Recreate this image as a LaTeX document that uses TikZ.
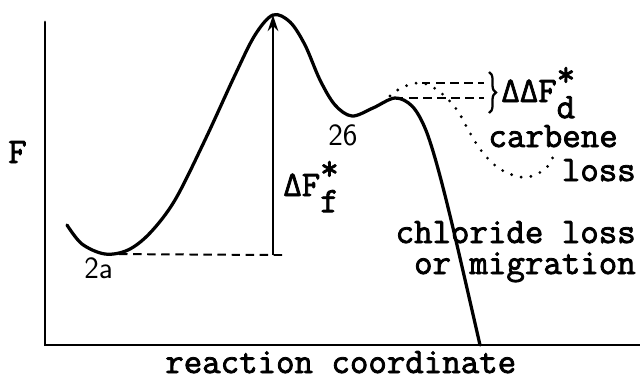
\documentclass[tikz,border=0pt]{standalone}
\usepackage{fontspec}
\newfontfamily\twfont[FakeBold=2.2]{Latin Modern Mono}
\usepackage{tikz}
\usetikzlibrary{positioning,arrows.meta,calc,decorations.pathreplacing}
\newcommand{\subsup}[2]{\rlap{\raisebox{-0.45em}{#2}}\raisebox{0.45em}{#1}}
\tikzset{
  axis/.style  ={draw=black, line width=2pt, line cap=round},
  curve/.style ={draw=black, line width=2.3pt, line cap=round},
  dots/.style  ={draw=black, line width=2.2pt, line cap=round,
                 dash pattern=on 0pt off 7pt},
  guide/.style ={draw=black, line width=1.4pt, dash pattern=on 6pt off 4pt},
  ar/.style    ={-{Stealth[length=4mm,width=2.6mm]}, draw=black,
                 line width=1.8pt},
  lbl/.style   ={font=\fontsize{25.5}{27}\twfont, inner sep=0pt},
  num/.style   ={font=\fontsize{22}{24}\selectfont\sffamily, inner sep=0pt}
}
\begin{document}
\begin{tikzpicture}[x=0.025cm, y=-0.025cm]
\useasboundingbox (0,0) rectangle (640,384);
% axes
\coordinate (o) at (45,345);
\coordinate (ytop) at (45,22);
\coordinate (xend) at (640,345);
\draw[axis] (ytop) -- (o) -- (xend);
% reference points
\coordinate (min2a) at (105,254);
\coordinate (ts) at (273,15);
\coordinate (base) at (273,255);
\coordinate (ts2) at (395,98);
\coordinate (tsd) at (422,83);
% free energy curve
\draw[curve] plot[smooth, tension=0.55] coordinates {
  (67,225) (82,244) (105,254) (128,250) (150,233) (175,200) (205,140)
  (235,75) (255,35) (273,15) (290,22) (305,45) (320,80) (335,105)
  (352,116) (373,108) (395,98) (412,106) (425,128) (437,165)
  (453,228) (480,345)};
% carbene loss branch
\draw[dots] plot[smooth, tension=0.6] coordinates {
  (390,96) (403,87) (422,83) (440,92) (457,110) (470,133) (483,153)
  (500,169) (520,177) (535,175) (548,166) (555,152)};
% guides
\draw[guide] (min2a) -- (base) -- ++(12,0);
\draw[guide] (tsd) -- ++(62,0) coordinate (dup);
\draw[guide] (ts2) -- ++(89,0) coordinate (dlo);
\draw[ar] (base) -- (ts);
\draw[line width=1.6pt, decorate,
      decoration={brace, amplitude=5pt}] (489,72) -- (489,113);
% labels
\node[lbl, anchor=base west] (yl) at (8,163) {F};
\node[num, anchor=base west] (l2a) at (84,278) {2a};
\node[num, anchor=base west] (l26) at (328,145) {26};
\node[lbl, anchor=base west] (dff) at (283,196) {ΔF\subsup{*}{f}};
\node[lbl, anchor=base west] (ddf) at (501,102) {ΔΔF\subsup{*}{d}};
\node[lbl, anchor=base east] (carb) at (618,147) {carbene};
\node[lbl, anchor=base east] (carb2) at (636,181) {loss};
\node[lbl, anchor=base east] (chl) at (636,243) {chloride loss};
\node[lbl, anchor=base east] (chl2) at (636,274) {or migration};
\node[lbl, anchor=base west] (xl) at (165,373) {reaction coordinate};
\end{tikzpicture}
\end{document}
